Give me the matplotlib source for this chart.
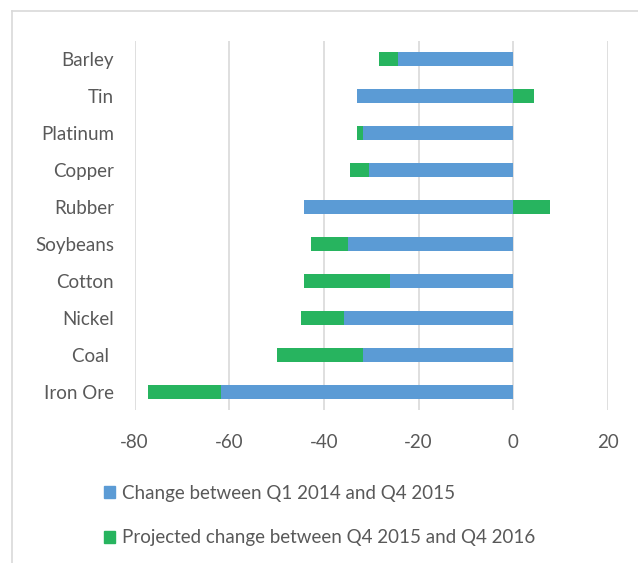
import matplotlib
matplotlib.use('Agg')
import matplotlib.pyplot as plt
import numpy as np
from matplotlib.patches import Patch
from matplotlib.lines import Line2D

plt.rcParams['font.family'] = ['Lato', 'DejaVu Sans']

commodities = ['Iron Ore', 'Coal ', 'Nickel', 'Cotton', 'Soybeans',
               'Rubber', 'Copper', 'Platinum', 'Tin', 'Barley']
change_2014_2015 = [-61.8, -31.8, -35.7, -26.1, -34.9, -44.2, -30.5, -31.8, -33.1, -24.3]
projected_2016 = [-15.4, -18.1, -9.2, -18.1, -7.9, 7.8, -4.0, -1.3, 4.3, -4.0]
xticks = [-80, -60, -40, -20, 0, 20]

blue = '#5b9bd5'
green = '#27b45f'
grey_text = '#595959'
fs = 13.5

fig = plt.figure(figsize=(6.38, 5.63), dpi=100)
ax = fig.add_axes([0.2111, 0.271, 0.953 - 0.2111, 0.928 - 0.271])

y = np.arange(len(commodities))
b1 = np.array(change_2014_2015)
b2 = np.array(projected_2016)
left2 = np.where(b2 < 0, b1, 0)

ax.barh(y, b1, height=0.4, color=blue, zorder=3)
ax.barh(y, b2, left=left2, height=0.4, color=green, zorder=3)

ax.set_xlim(-80, 20)
ax.set_ylim(-0.5, len(commodities) - 0.5)
ax.set_xticks(xticks)
ax.set_xticklabels([str(v) for v in xticks])
ax.set_yticks(y)
ax.set_yticklabels(commodities)
ax.grid(axis='x', color='#d9d9d9', linewidth=1.2, zorder=0)
for s in ax.spines.values():
    s.set_visible(False)
ax.tick_params(axis='both', length=0, labelsize=fs, colors=grey_text)
ax.tick_params(axis='x', pad=17)
ax.tick_params(axis='y', pad=15)

handles = [Patch(color=blue), Patch(color=green)]
labels = ['Change between Q1 2014 and Q4 2015',
          'Projected change between Q4 2015 and Q4 2016']
leg = fig.legend(handles, labels, loc='upper left', bbox_to_anchor=(104 / 638, 1 - 485 / 563),
                 frameon=False, fontsize=fs, handlelength=0.6, handleheight=0.6,
                 handletextpad=0.35, labelspacing=1.45, borderaxespad=0, borderpad=0)
for t in leg.get_texts():
    t.set_color(grey_text)

# chart area border (top and left visible)
fig.add_artist(Line2D([12 / 638, 1], [1 - 11 / 563, 1 - 11 / 563], color='#d9d9d9', linewidth=1.2))
fig.add_artist(Line2D([12 / 638, 12 / 638], [0, 1 - 11 / 563], color='#d9d9d9', linewidth=1.2))

fig.savefig('out.png', dpi=100)
